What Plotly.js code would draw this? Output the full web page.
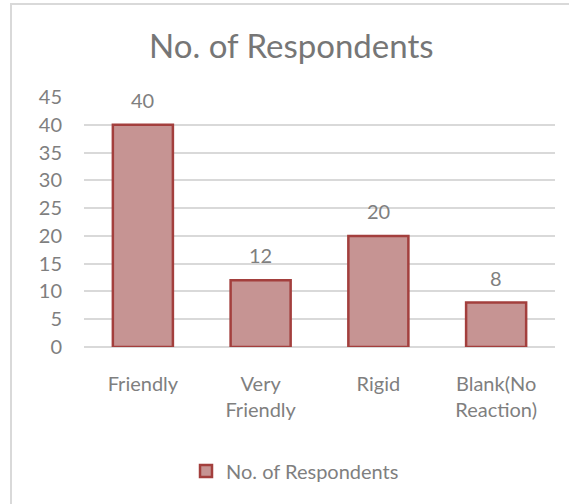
<!DOCTYPE html>
<html>
<head>
<meta charset="utf-8">
<script src="https://cdn.plot.ly/plotly-3.0.1.min.js"></script>
<style>
  html, body { margin: 0; padding: 0; background: #ffffff; }
  #wrap { position: relative; width: 569px; height: 504px; overflow: hidden; }
  #chart { width: 569px; height: 504px; }
  #frame { position: absolute; left: 10px; top: 3px; width: 600px; height: 560px;
           border-left: 2px solid #d9d9d9; border-top: 2px solid #d9d9d9; pointer-events: none; }
</style>
</head>
<body>
<div id="wrap">
  <div id="chart"></div>
  <div id="frame"></div>
</div>
<script>
const categories = ["Friendly", "Very<br>Friendly", "Rigid", "Blank(No<br>Reaction)"];
const values = [40, 12, 20, 8];
const seriesName = "No. of Respondents";
const chartTitle = "No. of Respondents";
const yTicks = [0, 5, 10, 15, 20, 25, 30, 35, 40, 45];

const FONT = "Lato, 'Open Sans', sans-serif";
const GREY = "#7f7f7f";

const trace = {
  type: "bar",
  x: categories,
  y: values,
  name: seriesName,
  width: 0.51,
  marker: { color: "#c69493", line: { color: "#a33f3d", width: 2.5 } },
  hoverinfo: "x+y",
  showlegend: true
};

const annotations = categories.map((c, i) => ({
  x: c, y: values[i], xref: "x", yref: "y",
  text: String(values[i]), showarrow: false,
  yanchor: "bottom", yshift: 11,
  font: { family: FONT, size: 20, color: GREY }
}));

const layout = {
  width: 569, height: 504,
  margin: { l: 84, r: 14, t: 97, b: 157, pad: 0 },
  paper_bgcolor: "#ffffff",
  plot_bgcolor: "#ffffff",
  font: { family: FONT, size: 20, color: GREY },
  title: {
    text: chartTitle,
    font: { family: FONT, size: 33, color: "#767676" },
    x: 0.512, xref: "container", xanchor: "center",
    y: 0.908, yref: "container", yanchor: "middle"
  },
  xaxis: {
    type: "category",
    showgrid: false,
    showline: false,
    zeroline: false,
    ticks: "outside", ticklen: 19, tickcolor: "rgba(0,0,0,0)",
    tickfont: { family: FONT, size: 20, color: GREY },
    fixedrange: true
  },
  yaxis: {
    range: [0, 45],
    tickvals: yTicks,
    ticktext: yTicks.map(String),
    showgrid: true, gridcolor: "#d9d9d9", gridwidth: 2,
    zeroline: true, zerolinecolor: "#d9d9d9", zerolinewidth: 2,
    showline: false,
    ticks: "outside", ticklen: 17, tickcolor: "rgba(0,0,0,0)",
    tickfont: { family: FONT, size: 20, color: GREY },
    fixedrange: true
  },
  legend: {
    orientation: "h",
    x: 0.448, xanchor: "center",
    y: -0.496, yanchor: "middle",
    font: { family: FONT, size: 20, color: GREY },
    bgcolor: "rgba(0,0,0,0)"
  },
  annotations: annotations,
  showlegend: true
};

Plotly.newPlot("chart", [trace], layout, { displayModeBar: false, staticPlot: true });
</script>
</body>
</html>
